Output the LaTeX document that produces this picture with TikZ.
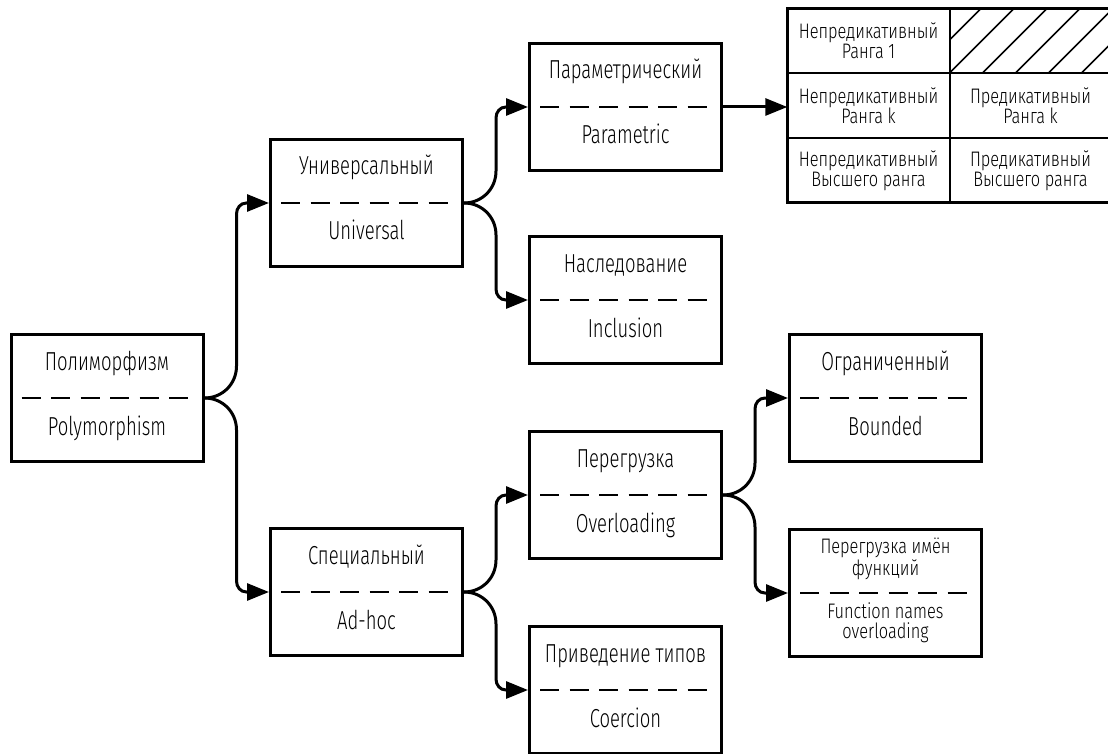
\documentclass[tikz,border=0pt]{standalone}
\usepackage{fontspec}
\setmainfont[FakeStretch=0.71]{Fira Sans Light}
\usetikzlibrary{arrows.meta,calc}

\tikzset{
  box/.style={draw, line width=3pt, minimum width=192pt, minimum height=127pt, inner sep=0pt},
  sep/.style={line width=2pt, dash pattern=on 19pt off 10.5pt},
  big/.style={font=\fontsize{26}{28}\selectfont, anchor=base, inner sep=0pt},
  small/.style={font=\fontsize{21}{20}\selectfont\addfontfeature{FakeStretch=0.78}, anchor=base, inner sep=0pt, align=center},
  cell/.style={minimum width=162pt, minimum height=64pt, inner sep=0pt, align=center, font=\fontsize{21}{20}\selectfont\addfontfeature{FakeStretch=0.78}},
  conn/.style={line width=3pt, -{Triangle[length=22pt,width=17pt]}},
  hatch/.style={line width=1.5pt},
}

\begin{document}
\begin{tikzpicture}[x=1pt,y=-1pt]
\useasboundingbox (0,0) rectangle (1108,754);

% boxes
\node[box] (poly) at (107,398){};
\node[box] (univ) at (366.5,203){};
\node[box] (param) at (625.5,107){};
\node[box] (incl) at (625.5,300){};
\node[box] (adhoc) at (366.5,592){};
\node[box] (overl) at (625.5,495){};
\node[box] (coerc) at (625.5,690){};
\node[box] (bound) at (885.5,398){};
\node[box] (funcn) at (885.5,593){};

% labels
\node[big] (polyRu) at (107,370){Полиморфизм};
\node[big] (polyEn) at (107,435){Polymorphism};
\node[big] (univRu) at (366.5,175){Универсальный};
\node[big] (univEn) at (366.5,240){Universal};
\node[big] (paramRu) at (625.5,79){Параметрический};
\node[big] (paramEn) at (625.5,144){Parametric};
\node[big] (inclRu) at (625.5,272){Наследование};
\node[big] (inclEn) at (625.5,337){Inclusion};
\node[big] (adhocRu) at (366.5,564){Специальный};
\node[big] (adhocEn) at (366.5,629){Ad-hoc};
\node[big] (overlRu) at (625.5,467){Перегрузка};
\node[big] (overlEn) at (625.5,532){Overloading};
\node[big] (coercRu) at (625.5,662){Приведение типов};
\node[big] (coercEn) at (625.5,727){Coercion};
\node[big] (boundRu) at (885.5,370){Ограниченный};
\node[big] (boundEn) at (885.5,435){Bounded};
\node[small] (funcnRu) at (885.5,575){Перегрузка имён\\функций};
\node[small] (funcnEn) at (885.5,638){Function names\\overloading};

% separators
\foreach \b in {poly,univ,param,incl,adhoc,overl,coerc,bound,funcn}
  \draw[sep] ([xshift=12pt]\b.west) -- ([xshift=-12pt]\b.east);

% table
\node[cell] (c11) at (868.5,41){Непредикативный\\Ранга 1};
\node[cell] (c12) at (1030.5,41){};
\node[cell] (c21) at (868.5,105.5){Непредикативный\\Ранга k};
\node[cell] (c22) at (1030.5,105.5){Предикативный\\Ранга k};
\node[cell] (c31) at (868.5,170.5){Непредикативный\\Высшего ранга};
\node[cell] (c32) at (1030.5,170.5){Предикативный\\Высшего ранга};
\begin{scope}
\clip (c12.south west) rectangle (c12.north east);
\foreach \k in {-1,...,5}
  \draw[hatch] ($(c12.south west)+(33*\k,0)$) -- ++(70,-70);
\end{scope}
\draw[line width=2pt] (c11.south west) -- (c12.south east);
\draw[line width=2pt] (c21.south west) -- (c22.south east);
\draw[line width=2pt] (c11.north east) -- (c31.south east);
\draw[line width=3pt] (c11.north west) rectangle (c32.south east);

% connectors
\draw[conn] (poly.east) .. controls +(18,0) and +(0,18) .. ++(32,-32) -- ++(0,-152) .. controls +(0,-6) and +(-6,0) .. ++(10,-11) -- (univ.west);
\draw[conn] (poly.east) .. controls +(18,0) and +(0,-18) .. ++(32,32) -- ++(0,151) .. controls +(0,6) and +(-6,0) .. ++(10,11) -- (adhoc.west);
\draw[conn] (univ.east) .. controls +(18,0) and +(0,18) .. ++(32,-32) -- ++(0,-53) .. controls +(0,-6) and +(-6,0) .. ++(10,-11) -- (param.west);
\draw[conn] (univ.east) .. controls +(18,0) and +(0,-18) .. ++(32,32) -- ++(0,54) .. controls +(0,6) and +(-6,0) .. ++(10,11) -- (incl.west);
\draw[conn] (adhoc.east) .. controls +(18,0) and +(0,18) .. ++(32,-32) -- ++(0,-54) .. controls +(0,-6) and +(-6,0) .. ++(10,-11) -- (overl.west);
\draw[conn] (adhoc.east) .. controls +(18,0) and +(0,-18) .. ++(32,32) -- ++(0,55) .. controls +(0,6) and +(-6,0) .. ++(10,11) -- (coerc.west);
\draw[conn] (overl.east) .. controls +(18,0) and +(0,18) .. ++(32,-32) -- ++(0,-54) .. controls +(0,-6) and +(-6,0) .. ++(10,-11) -- (bound.west);
\draw[conn] (overl.east) .. controls +(18,0) and +(0,-18) .. ++(32,32) -- ++(0,55) .. controls +(0,6) and +(-6,0) .. ++(10,11) -- (funcn.west);
\draw[conn] (param.east) -- (param.east -| c21.west);

\end{tikzpicture}
\end{document}
